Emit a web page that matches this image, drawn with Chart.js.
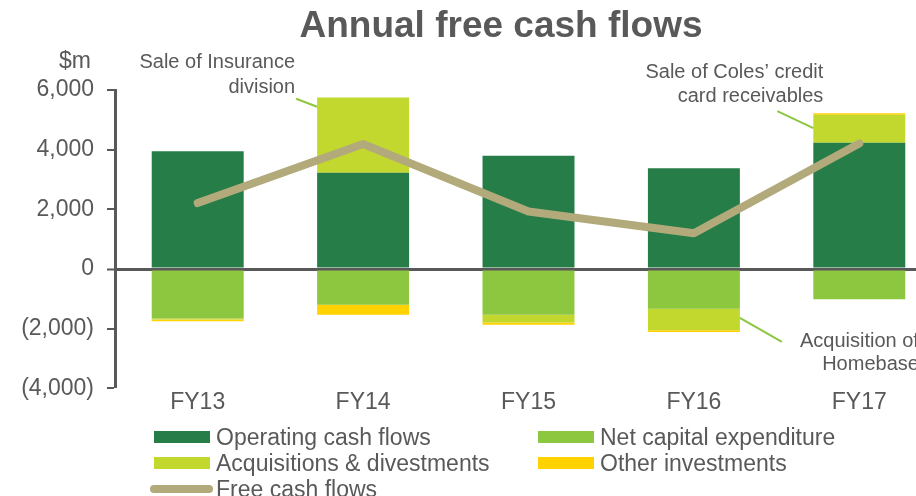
<!DOCTYPE html>
<html>
<head>
<meta charset="utf-8">
<script src="https://cdn.jsdelivr.net/npm/chart.js@4.4.0/dist/chart.umd.min.js"></script>
<style>
  html, body { margin: 0; padding: 0; background: #fff; }
  #wrap { position: relative; width: 916px; height: 496px; overflow: hidden; }
  #box { position: absolute; left: 0; top: 0; width: 942px; height: 496px; }
  #legend {
    position: absolute; left: 150px; top: 424px;
    display: grid; grid-template-columns: 384px auto; grid-auto-rows: 26px;
    font-family: "Liberation Sans", Arial, sans-serif; font-size: 23px; color: #595959;
  }
  #legend .item { display: flex; align-items: center; line-height: 26px; white-space: nowrap; }
  #legend .sw { margin-left: 4px; width: 56px; height: 12px; margin-right: 6px; }
  #legend .sw.line { margin-left: 0; width: 63px; height: 8px; border-radius: 4px; margin-right: 3px; }
</style>
</head>
<body>
<div id="wrap">
  <div id="box"><canvas id="myChart" width="942" height="496"></canvas></div>
  <div id="legend"></div>
</div>
<script>
// 데이터 ($m)
const categories = ["FY13", "FY14", "FY15", "FY16", "FY17"];
const operatingCash = [3950, 3230, 3800, 3380, 4230];
const netCapex = [-1660, -1195, -1530, -1330, -1015];
const acquisitions = [-30, 2520, -260, -720, 940];
const otherInvest = [-60, -340, -80, -60, 50];
const freeCash = [2210, 4190, 1930, 1200, 4210];
const yTicks = [-4000, -2000, 0, 2000, 4000, 6000];

const FONT = '"Liberation Sans", Arial, sans-serif';
const GREY = "#595959";

function fmt(v) {
	var s = Math.abs(v).toLocaleString("en-US");
	return v < 0 ? "(" + s + ")" : s;
}

// 주석 (막대 기준 위치)
const notes = [
	{ idx: 1, edge: -1, value: 5440, dx: -21, dy: -8, text: ["Sale of Insurance", "division"], tx: -1, ty: [-36, -11], fromEnd: false },
	{ idx: 4, edge: -1, value: 4720, dx: -36, dy: -17, text: ["Sale of Coles\u2019 credit", "card receivables"], tx: 46, ty: [-39, -15], fromEnd: false },
	{ idx: 3, edge: 1, value: -1640, dx: 42, dy: 24, text: ["Acquisition of", "Homebase"], tx: 137, ty: [0, 23], fromEnd: true }
];

const extras = {
	id: "extras",
	afterDraw(chart) {
		const c = chart.ctx;
		const y = chart.scales.y;
		const bars = chart.getDatasetMeta(1).data;
		c.save();
		c.fillStyle = GREY;
		c.textBaseline = "middle";

		// 제목
		c.font = "bold 37px " + FONT;
		c.textAlign = "center";
		c.fillText("Annual free cash flows", 501, 27);

		// 단위
		c.font = "23px " + FONT;
		c.textAlign = "right";
		c.fillText("$m", 91, 62);

		// 주석
		c.font = "20px " + FONT;
		notes.forEach(function(n) {
			const b = bars[n.idx];
			const x0 = b.x + n.edge * b.width / 2;
			const y0 = y.getPixelForValue(n.value);
			const x1 = x0 + n.dx;
			const y1 = y0 + n.dy;
			c.strokeStyle = "#8dc63f";
			c.lineWidth = 2;
			c.beginPath();
			c.moveTo(x0, y0);
			c.lineTo(x1, y1);
			c.stroke();
			c.fillStyle = GREY;
			c.textAlign = "right";
			n.text.forEach(function(t, i) {
				c.fillText(t, x1 + n.tx, y1 + n.ty[i]);
			});
		});
		c.restore();
	}
};

const ctx = document.getElementById("myChart");

const config = {
	type: "bar",
	data: {
		labels: categories,
		datasets: [
			{ type: "line", label: "Free cash flows", data: freeCash, borderColor: "#b3aa7c", backgroundColor: "#b3aa7c",
			  borderWidth: 8, pointRadius: 0, borderCapStyle: "round", borderJoinStyle: "round", tension: 0, order: 0 },
			{ label: "Operating cash flows", data: operatingCash, backgroundColor: "#267d47", order: 1 },
			{ label: "Net capital expenditure", data: netCapex, backgroundColor: "#8dc63f", order: 1 },
			{ label: "Acquisitions & divestments", data: acquisitions, backgroundColor: "#c2d82e", order: 1 },
			{ label: "Other investments", data: otherInvest, backgroundColor: "#ffd200", order: 1 }
		]
	},
	options: {
		responsive: false,
		animation: false,
		barPercentage: 0.556,
		categoryPercentage: 1,
		layout: { padding: { top: 90, bottom: 80, left: 0, right: 0 } },
		plugins: {
			legend: { display: false },
			title: { display: false },
			tooltip: { enabled: false }
		},
		scales: {
			x: {
				stacked: true,
				grid: { display: false, drawTicks: false },
				border: { display: false },
				ticks: { font: { family: FONT, size: 23 }, color: GREY, padding: 0, maxRotation: 0 }
			},
			y: {
				stacked: true,
				min: yTicks[0],
				max: yTicks[yTicks.length - 1],
				z: 1,
				afterFit: function(s) { s.width = 115; },
				afterBuildTicks: function(s) { s.ticks = yTicks.map(function(v) { return { value: v }; }); },
				grid: {
					drawOnChartArea: true,
					color: function(c) { return c.tick && c.tick.value === 0 ? GREY : "rgba(0,0,0,0)"; },
					lineWidth: function(c) { return c.tick && c.tick.value === 0 ? 3 : 0; },
					tickColor: GREY,
					tickWidth: 2,
					tickLength: 8
				},
				border: { display: true, color: GREY, width: 3 },
				ticks: { font: { family: FONT, size: 23 }, color: GREY, padding: 13, callback: function(v) { return fmt(v); } }
			}
		}
	},
	plugins: [extras]
};

const myChart = new Chart(ctx, config);

// 범례 (HTML)
const legendOrder = [1, 2, 3, 4, 0];
let html = "";
legendOrder.forEach(function(i) {
	const d = myChart.data.datasets[i];
	const cls = d.type === "line" ? "sw line" : "sw";
	const col = d.type === "line" ? d.borderColor : d.backgroundColor;
	html += `<div class="item"><span class="${cls}" style="background:${col}"></span><span>${d.label}</span></div>`;
});
document.getElementById("legend").innerHTML = html;
</script>
</body>
</html>
